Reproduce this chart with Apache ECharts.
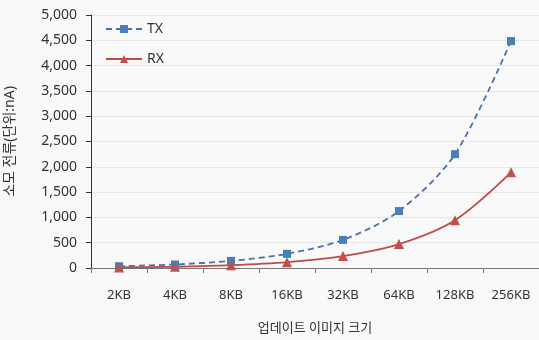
<!DOCTYPE html>
<html>
<head>
<meta charset="utf-8">
<script src="https://cdn.jsdelivr.net/npm/echarts@6/dist/echarts.min.js"></script>
<style>
  html, body { margin: 0; padding: 0; background: #f9f9f9; }
  #chart { width: 539px; height: 340px; }
</style>
</head>
<body>
<div id="chart"></div>
<script>
// data
var sizes = ['2KB', '4KB', '8KB', '16KB', '32KB', '64KB', '128KB', '256KB'];
var txCurrent = [35, 70, 140, 280, 555, 1125, 2250, 4485];
var rxCurrent = [12, 25, 55, 115, 235, 472, 945, 1890];
var seriesNames = ['TX', 'RX'];

var labelFont = '"Noto Sans", "Noto Sans CJK KR", sans-serif';
var chart = echarts.init(document.getElementById('chart'), null, {renderer: 'canvas'});

chart.setOption({
  backgroundColor: '#f9f9f9',
  animation: false,
  grid: {left: 91, right: 0, top: 15, bottom: 72, outerBoundsMode: 'none', containLabel: false},
  legend: {
    left: 100, top: 17, orient: 'vertical', itemGap: 16,
    itemWidth: 36, itemHeight: 10,
    textStyle: {fontFamily: labelFont, fontSize: 14, color: '#333'},
    data: seriesNames
  },
  xAxis: {
    type: 'category',
    data: sizes,
    boundaryGap: true,
    name: '업데이트 이미지 크기',
    nameLocation: 'middle',
    nameGap: 54,
    nameTextStyle: {fontFamily: labelFont, fontSize: 13, color: '#333'},
    axisLine: {lineStyle: {color: '#777', width: 1}},
    axisTick: {show: true, length: 5, lineStyle: {color: '#777'}},
    axisLabel: {fontFamily: labelFont, fontSize: 13, color: '#333', margin: 21}
  },
  yAxis: {
    type: 'value',
    min: 0, max: 5000, interval: 500,
    name: '소모 전류(단위:nA)',
    nameLocation: 'middle',
    nameGap: 74,
    nameTextStyle: {fontFamily: labelFont, fontSize: 14, color: '#333'},
    axisLine: {show: true, lineStyle: {color: '#333'}},
    axisTick: {show: true, length: 5, inside: false, lineStyle: {color: '#333'}},
    axisLabel: {
      fontFamily: labelFont, fontSize: 14, color: '#333', margin: 14,
      formatter: function(v) { return v.toLocaleString('en-US'); }
    },
    splitLine: {lineStyle: {color: '#e6e6e6'}}
  },
  series: [
    {
      name: seriesNames[0], type: 'line', data: txCurrent, smooth: 0.3,
      symbol: 'rect', symbolSize: 8,
      lineStyle: {color: '#4a72b0', width: 1.8, type: [6, 4]},
      itemStyle: {color: '#4a7ebb'}
    },
    {
      name: seriesNames[1], type: 'line', data: rxCurrent, smooth: 0.3,
      symbol: 'triangle', symbolSize: 10,
      lineStyle: {color: '#be4b48', width: 1.8},
      itemStyle: {color: '#c0504d'}
    }
  ]
});
</script>
</body>
</html>
